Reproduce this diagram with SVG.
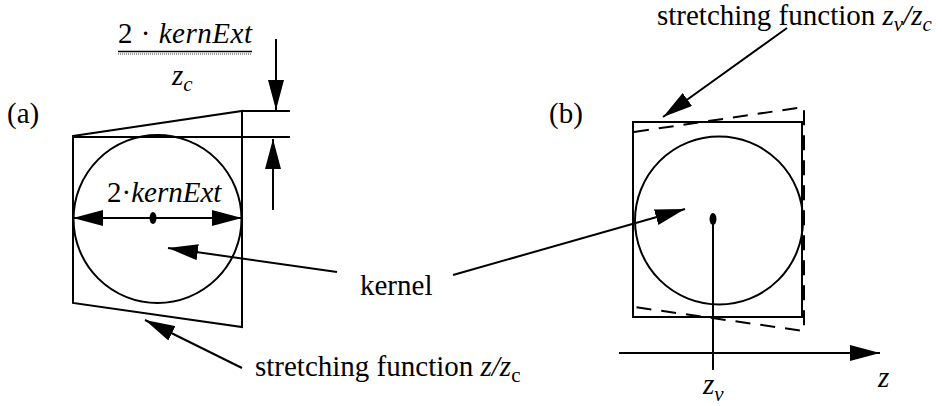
<svg xmlns="http://www.w3.org/2000/svg" width="942" height="406" viewBox="0 0 942 406">
<defs>
<style>
.s{fill:none;stroke:#000;stroke-width:2}
.d{fill:none;stroke:#000;stroke-width:2;stroke-dasharray:15 10}
.a{fill:none;stroke:#000;stroke-width:2;marker-end:url(#ah)}
.t{font-family:"Liberation Serif","Times New Roman",serif;font-size:29px;fill:#000}
.i{font-style:italic}
.sub{font-size:21px}
</style>
<marker id="ah" viewBox="0 0 30 16" refX="30" refY="8" markerWidth="30" markerHeight="16" markerUnits="userSpaceOnUse" orient="auto-start-reverse">
<path d="M0,0 L30,8 L0,16 z" fill="#000"/>
</marker>
</defs>
<rect width="942" height="406" fill="#fff"/>

<g id="fig-a">
<polygon class="s" points="73,136 242,111 242,327 73,303"/>
<line class="s" x1="73" y1="137" x2="290" y2="137"/>
<line class="s" x1="242" y1="111" x2="290" y2="111"/>
<circle class="s" cx="157.5" cy="219" r="84"/>
<ellipse cx="153" cy="218" rx="3.5" ry="6" fill="#000"/>
</g>

<g id="fig-b">
<rect class="s" x="633" y="122" width="169" height="195"/>
<polyline class="d" points="634,132 804,107 804,331 634,307"/>
<circle class="s" cx="719" cy="220.5" r="84"/>
<ellipse cx="713" cy="219" rx="3.5" ry="6" fill="#000"/>
<line class="s" x1="713" y1="219" x2="713" y2="370"/>
</g>

<g id="connectors">
<line class="a" x1="73" y1="218" x2="242" y2="218" marker-start="url(#ah)"/>
<line class="a" x1="276" y1="39" x2="276" y2="110"/>
<line class="a" x1="273" y1="210" x2="273" y2="139"/>
<line class="a" x1="337" y1="272" x2="168" y2="248"/>
<line class="a" x1="453" y1="275" x2="685" y2="209"/>
<line class="a" x1="242" y1="368" x2="145" y2="320"/>
<line class="a" x1="787" y1="28" x2="663" y2="117"/>
<line class="a" x1="619" y1="353" x2="880" y2="353"/>
</g>

<g id="labels">
<text class="t" x="7" y="123">(a)</text>
<text class="t" x="549" y="123">(b)</text>
<g id="fraction">
<text class="t" x="118" y="43" textLength="134" lengthAdjust="spacing">2 · <tspan class="i">kernExt</tspan></text>
<line x1="118" y1="51.5" x2="252" y2="51.5" stroke="#000" stroke-width="1.6"/>
<line x1="118" y1="54" x2="252" y2="54" stroke="#000" stroke-width="0.8" stroke-dasharray="1 1"/>
<text class="t i" x="172" y="85">z<tspan class="sub" dy="6">c</tspan></text>
</g>
<text class="t" x="107" y="202">2·<tspan class="i">kernExt</tspan></text>
<text class="t" x="360" y="295">kernel</text>
<text class="t" x="255" y="376">stretching function <tspan class="i">z/z</tspan><tspan class="sub" dy="6">c</tspan></text>
<text class="t" x="657" y="25">stretching function <tspan class="i">z</tspan><tspan class="i sub" dy="6">v</tspan><tspan class="i" dy="-6">/z</tspan><tspan class="i sub" dy="6">c</tspan></text>
<text class="t i" x="703" y="394">z<tspan class="sub" dy="7">v</tspan></text>
<text class="t i" x="878" y="387">z</text>
</g>
</svg>
